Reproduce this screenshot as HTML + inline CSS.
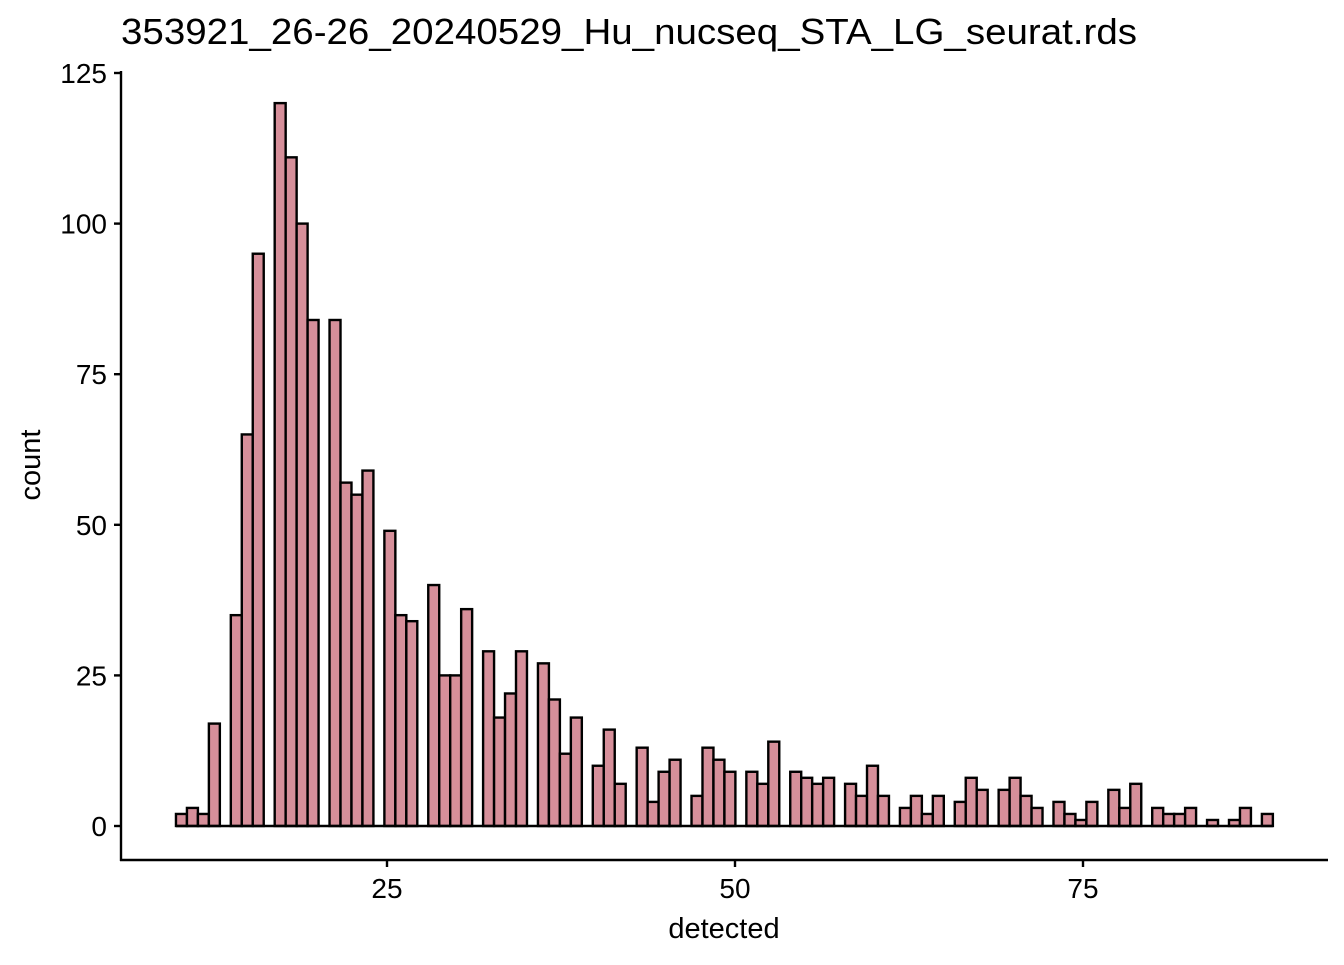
<!DOCTYPE html>
<html><head><meta charset="utf-8"><style>
body{margin:0;background:#fff;}
svg text{font-family:"Liberation Sans",Arial,sans-serif;}
</style></head><body>
<svg id="chart" width="1344" height="960" xmlns="http://www.w3.org/2000/svg">
<text x="121" y="44" style="font-size:36px" textLength="1016" lengthAdjust="spacingAndGlyphs" fill="#000">353921_26-26_20240529_Hu_nucseq_STA_LG_seurat.rds</text>
<g id="bars"></g>
<g id="axes"></g>
<text x="724" y="938" style="font-size:29px" text-anchor="middle">detected</text>
<text transform="translate(40,465) rotate(-90)" style="font-size:29px" text-anchor="middle">count</text>
</svg>
<script>
const counts=[2,3,2,17,0,35,65,95,0,120,111,100,84,0,84,57,55,59,0,49,35,34,0,40,25,25,36,0,29,18,22,29,0,27,21,12,18,0,10,16,7,0,13,4,9,11,0,5,13,11,9,0,9,7,14,0,9,8,7,8,0,7,5,10,5,0,3,5,2,5,0,4,8,6,0,6,8,5,3,0,4,2,1,4,0,6,3,7,0,3,2,2,3,0,1,0,1,3,0,2];
const binStart=9.84;
const binWidth=0.788;
const xTicks=[25,50,75];
const yTicks=[0,25,50,75,100,125];
const NS="http://www.w3.org/2000/svg";
function xS(v){return 387+(v-25)*13.92;}
function yS(v){return 826-v*6.024;}
const bars=document.getElementById('bars');
counts.forEach((c,i)=>{
  if(c<=0)return;
  const x0=xS(binStart+i*binWidth),x1=xS(binStart+(i+1)*binWidth);
  const r=document.createElementNS(NS,'rect');
  r.setAttribute('x',x0);r.setAttribute('y',yS(c));
  r.setAttribute('width',x1-x0);r.setAttribute('height',yS(0)-yS(c));
  r.setAttribute('fill','#d68f9a');r.setAttribute('stroke','#000');r.setAttribute('stroke-width','2.4');
  
  
  bars.appendChild(r);
});
const baseline=document.createElementNS(NS,'line');
baseline.setAttribute('x1',xS(binStart));baseline.setAttribute('x2',xS(binStart+counts.length*binWidth));
baseline.setAttribute('y1',yS(0));baseline.setAttribute('y2',yS(0));
baseline.setAttribute('stroke','#000');baseline.setAttribute('stroke-width','2.4');


bars.appendChild(baseline);
const axes=document.getElementById('axes');
function line(x1,y1,x2,y2,name){const l=document.createElementNS(NS,'line');l.setAttribute('x1',x1);l.setAttribute('y1',y1);l.setAttribute('x2',x2);l.setAttribute('y2',y2);l.setAttribute('stroke','#000');l.setAttribute('stroke-width','2.4');


axes.appendChild(l);}
function text(x,y,s,anchor,name){const t=document.createElementNS(NS,'text');t.setAttribute('x',x);t.setAttribute('y',y);t.setAttribute('style','font-size:28px');t.setAttribute('fill','#000');t.setAttribute('text-anchor',anchor);t.textContent=s;


axes.appendChild(t);}
line(121,71,121,861,'y-axis-line');
line(120,860,1328,860,'x-axis-line');
yTicks.forEach(v=>{line(114,yS(v),121,yS(v),'y-tick');text(107,yS(v)+10,String(v),'end','y-tick-label');});
xTicks.forEach(v=>{line(xS(v),860,xS(v),867,'x-tick');text(xS(v),898,String(v),'middle','x-tick-label');});
</script>
</body></html>
